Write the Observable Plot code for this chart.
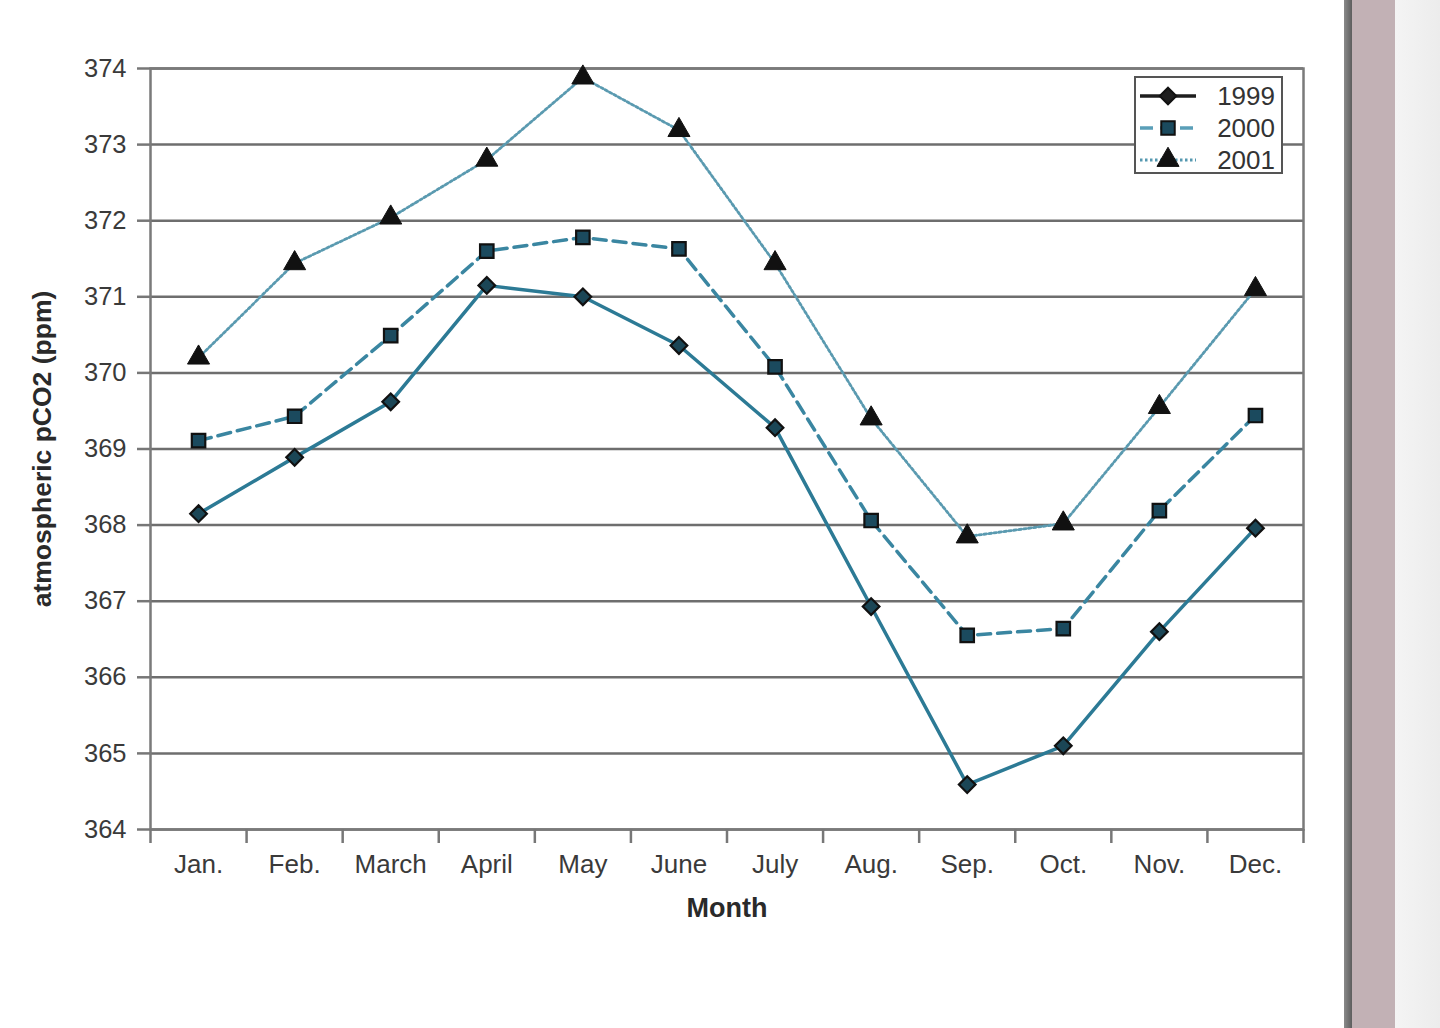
<!DOCTYPE html>
<html>
<head>
<meta charset="utf-8">
<script src="https://cdn.jsdelivr.net/npm/d3@7"></script>
<script src="https://cdn.jsdelivr.net/npm/@observablehq/plot@0.6"></script>
<style>
  html, body { margin: 0; padding: 0; background: #ffffff; width: 1440px; height: 1028px; overflow: hidden; }
  #wrap { position: absolute; left: 0; top: 0; width: 1345px; height: 1028px; background: #ffffff; }
  #chart { position: absolute; left: 0; top: 0; }
  #edge1 { position: absolute; left: 1344px; top: 0; width: 8px; height: 1028px; background: linear-gradient(to right, #8a8a8a, #5e5e5e); }
  #edge2 { position: absolute; left: 1352px; top: 0; width: 43px; height: 1028px; background: #c2b1b5; }
  #edge3 { position: absolute; left: 1395px; top: 0; width: 45px; height: 1028px; background: linear-gradient(to right, #f4f4f4, #ececec); }
  #legend { position: absolute; left: 1134px; top: 76px; }
</style>
</head>
<body>
<div id="wrap"><div id="chart"></div><div id="legend"></div></div>
<div id="edge1"></div><div id="edge2"></div><div id="edge3"></div>
<script>
const months = ["Jan.", "Feb.", "March", "April", "May", "June", "July", "Aug.", "Sep.", "Oct.", "Nov.", "Dec."];
const years = ["1999", "2000", "2001"];
const co2_1999 = [368.15, 368.89, 369.62, 371.15, 371.00, 370.36, 369.28, 366.93, 364.59, 365.10, 366.60, 367.96];
const co2_2000 = [369.11, 369.43, 370.49, 371.60, 371.78, 371.63, 370.08, 368.06, 366.55, 366.64, 368.19, 369.44];
const co2_2001 = [370.20, 371.44, 372.04, 372.80, 373.88, 373.19, 371.44, 369.40, 367.85, 368.02, 369.55, 371.10];
const yTicks = [364, 365, 366, 367, 368, 369, 370, 371, 372, 373, 374];

const seriesStyle = {
  "1999": {stroke: "#2c7a95", width: 3.5, dash: null, symbol: "diamond2", r: 7.5, fill: "#1b4656", legendLine: "#1e1e1e"},
  "2000": {stroke: "#3a86a1", width: 3.5, dash: "13,7", symbol: "square", r: 7.6, fill: "#1b4a5e", legendLine: "#5a9fb8"},
  "2001": {stroke: "#5a9ab0", width: 2.8, dash: "2.5,2.5", symbol: "triangle", r: 8.2, fill: "#111111", legendLine: "#5598b0"}
};
const values = {"1999": co2_1999, "2000": co2_2000, "2001": co2_2001};

const data = years.flatMap(yr => values[yr].map((v, i) => ({year: yr, month: months[i], idx: i + 0.5, value: v})));

const font = "'Liberation Sans', Arial, Helvetica, sans-serif";
const width = 1340, height = 940;

const marks = [
  Plot.gridY(yTicks, {stroke: "#6e6e6e", strokeWidth: 2.5, strokeOpacity: 1}),
  Plot.frame({stroke: "#7a7a7a", strokeWidth: 2.5}),
  Plot.axisY({ticks: yTicks, tickSize: 13, tickPadding: 11, fontSize: 25.5, label: null, stroke: "#777", strokeWidth: 2.5, fill: "#3a3a3a"}),
  Plot.axisX({ticks: d3.range(13), tickSize: 14, tickFormat: () => "", label: null, stroke: "#777", strokeWidth: 2.5}),
  Plot.axisX({ticks: d3.range(12).map(i => i + 0.5), tickSize: 0, tickPadding: 25, fontSize: 26, tickFormat: d => months[Math.floor(d)], label: null, fill: "#3a3a3a"}),
  Plot.text(["Month"], {frameAnchor: "bottom", dy: 79, text: d => d, fontSize: 27, fontWeight: "bold", fill: "#2a2a2a", lineAnchor: "middle", textAnchor: "middle"}),
  Plot.text(["atmospheric pCO2 (ppm)"], {frameAnchor: "left", dx: -108, rotate: -90, text: d => d, fontSize: 26.5, fontWeight: "bold", fill: "#2a2a2a", lineAnchor: "middle", textAnchor: "middle"})
];
for (const yr of years) {
  const s = seriesStyle[yr];
  const d = data.filter(e => e.year === yr);
  marks.push(Plot.line(d, {x: "idx", y: "value", stroke: s.stroke, strokeWidth: s.width, strokeDasharray: s.dash}));
}
for (const yr of years) {
  const s = seriesStyle[yr];
  const d = data.filter(e => e.year === yr);
  marks.push(Plot.dot(d, {x: "idx", y: "value", symbol: s.symbol, r: s.r, fill: s.fill, stroke: "#111", strokeWidth: yr === "2001" ? 1 : 2.2}));
}

const chart = Plot.plot({
  width, height,
  marginLeft: 150, marginRight: 37, marginTop: 68, marginBottom: 111,
  style: {fontFamily: font, background: "transparent", overflow: "visible"},
  x: {type: "linear", domain: [0, 12], axis: null},
  y: {domain: [364, 374], axis: null},
  marks
});
document.getElementById("chart").appendChild(chart);

// Legend
const lw = 149, lh = 98;
const lg = d3.select("#legend").append("svg").attr("width", lw).attr("height", lh);
lg.append("rect").attr("x", 1).attr("y", 1).attr("width", lw - 2).attr("height", lh - 2)
  .attr("fill", "#fff").attr("stroke", "#555").attr("stroke-width", 2);
const symMap = {diamond2: d3.symbolDiamond2, square: d3.symbolSquare, triangle: d3.symbolTriangle};
years.forEach((yr, i) => {
  const s = seriesStyle[yr];
  const cy = 20 + i * 32;
  lg.append("line").attr("x1", 6).attr("x2", 62).attr("y1", cy).attr("y2", cy)
    .attr("stroke", s.legendLine).attr("stroke-width", s.width).attr("stroke-dasharray", s.dash);
  lg.append("path").attr("transform", `translate(34,${cy})`)
    .attr("d", d3.symbol(symMap[s.symbol], Math.PI * s.r * s.r)())
    .attr("fill", yr === "1999" ? "#1e1e1e" : s.fill).attr("stroke", "#111").attr("stroke-width", yr === "2001" ? 1 : 2);
  lg.append("text").attr("x", 141).attr("y", cy).attr("text-anchor", "end").attr("dy", "0.36em")
    .attr("font-family", font).attr("font-size", 26).attr("fill", "#333").text(yr);
});
</script>
</body>
</html>
